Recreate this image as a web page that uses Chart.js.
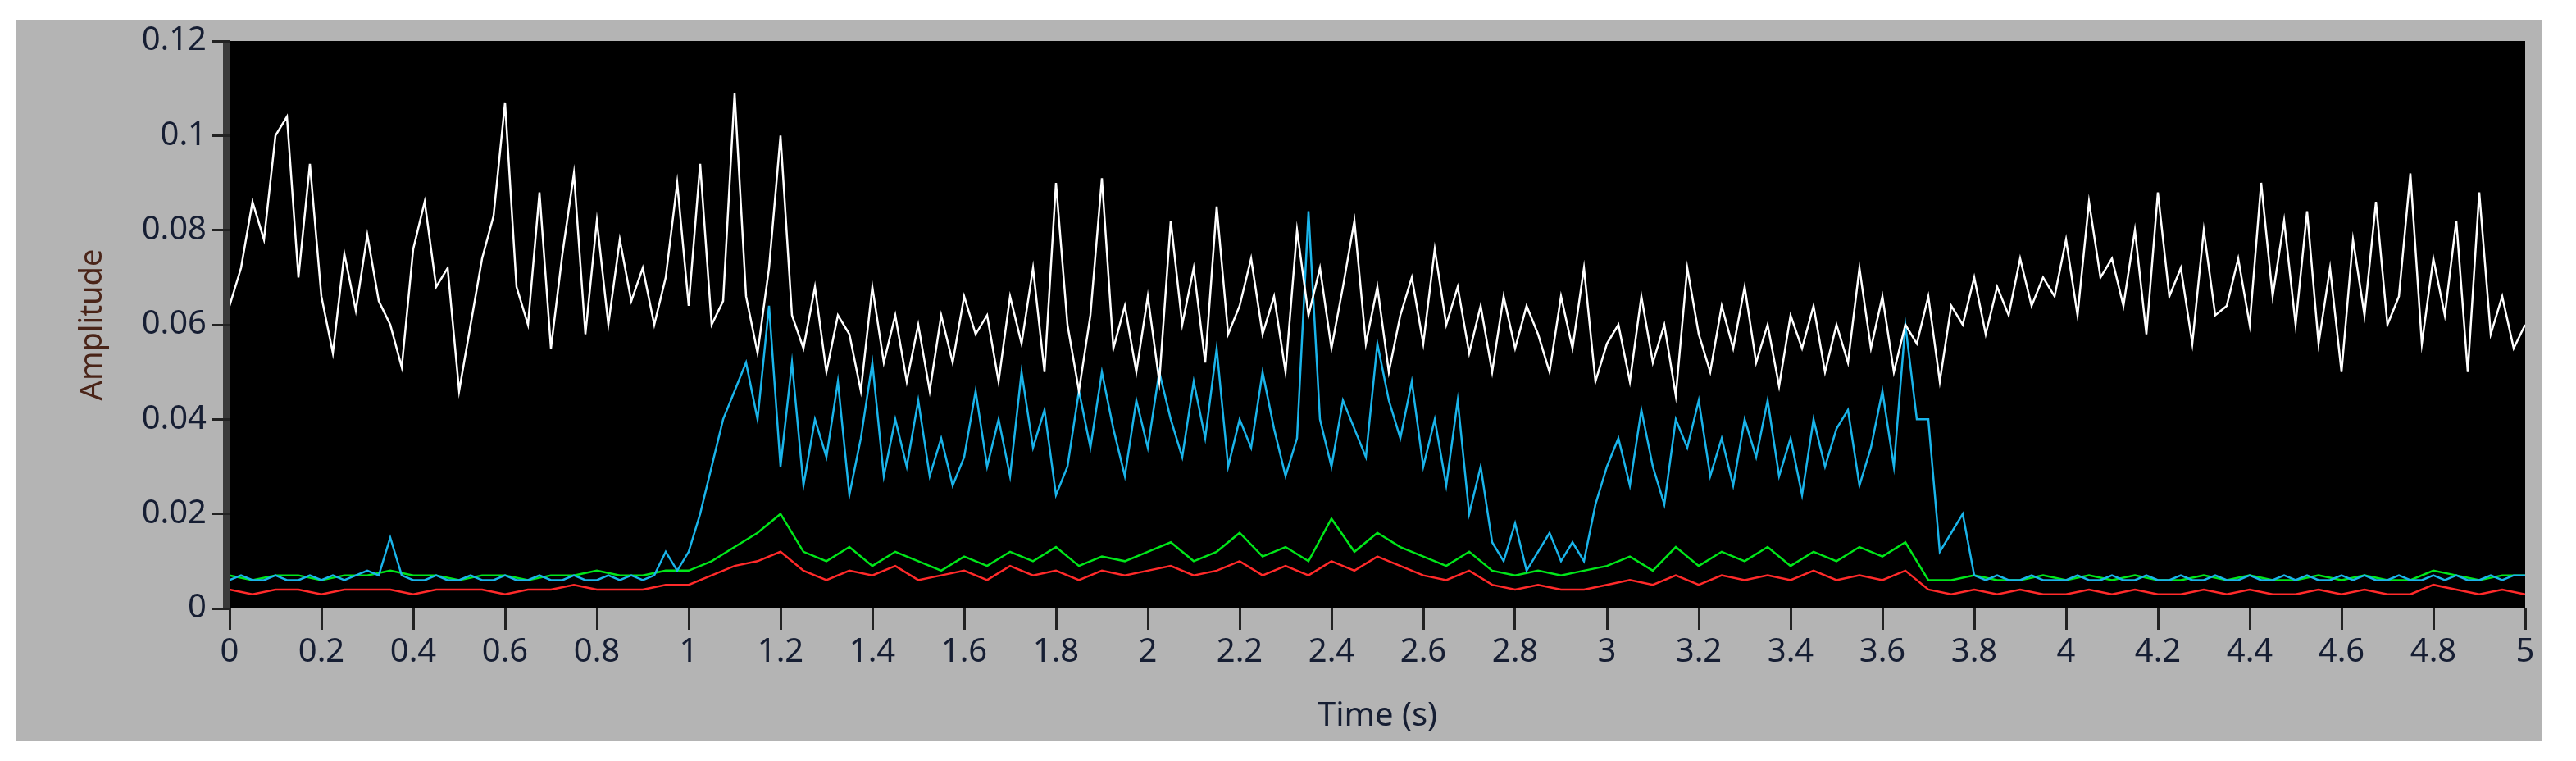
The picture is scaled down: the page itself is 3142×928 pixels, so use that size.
<!DOCTYPE html>
<html>
<head>
<meta charset="utf-8">
<script src="https://cdn.jsdelivr.net/npm/chart.js@4.4.0/dist/chart.umd.min.js"></script>
<style>
  html, body { margin: 0; padding: 0; background: #fff; }
  #wrap { width: 3142px; height: 928px; }
</style>
</head>
<body>
<div id="wrap"><canvas id="plot" width="3142" height="928"></canvas></div>
<script>
// 時間刻み (s)
const fineStep = 0.025;
const coarseStep = 0.05;
const xTicks = [0, 0.2, 0.4, 0.6, 0.8, 1, 1.2, 1.4, 1.6, 1.8, 2, 2.2, 2.4, 2.6, 2.8, 3, 3.2, 3.4, 3.6, 3.8, 4, 4.2, 4.4, 4.6, 4.8, 5];
const yTicks = [0, 0.02, 0.04, 0.06, 0.08, 0.1, 0.12];

// 白: 全体信号 (0.025 s 刻み)
const whiteSeries = [
  0.064,0.072,0.086,0.078,0.100,0.104,0.070,0.094,0.066,0.054,0.075,0.063,0.079,0.065,0.060,0.051,0.076,0.086,0.068,0.072,
  0.046,0.060,0.074,0.083,0.107,0.068,0.060,0.088,0.055,0.075,0.092,0.058,0.082,0.060,0.078,0.065,0.072,0.060,0.070,0.090,
  0.064,0.094,0.060,0.065,0.109,0.066,0.054,0.072,0.100,0.062,0.055,0.068,0.050,0.062,0.058,0.046,0.068,0.052,0.062,0.048,
  0.060,0.046,0.062,0.052,0.066,0.058,0.062,0.048,0.066,0.056,0.072,0.050,0.090,0.060,0.046,0.062,0.091,0.055,0.064,0.050,
  0.066,0.048,0.082,0.060,0.072,0.052,0.085,0.058,0.064,0.074,0.058,0.066,0.050,0.080,0.062,0.072,0.055,0.068,0.082,0.056,
  0.068,0.050,0.062,0.070,0.056,0.076,0.060,0.068,0.054,0.064,0.050,0.066,0.055,0.064,0.058,0.050,0.066,0.055,0.072,0.048,
  0.056,0.060,0.048,0.066,0.052,0.060,0.045,0.072,0.058,0.050,0.064,0.055,0.068,0.052,0.060,0.047,0.062,0.055,0.064,0.050,
  0.060,0.052,0.072,0.055,0.066,0.050,0.060,0.056,0.066,0.048,0.064,0.060,0.070,0.058,0.068,0.062,0.074,0.064,0.070,0.066,
  0.078,0.062,0.086,0.070,0.074,0.064,0.080,0.058,0.088,0.066,0.072,0.056,0.080,0.062,0.064,0.074,0.060,0.090,0.066,0.082,
  0.060,0.084,0.056,0.072,0.050,0.078,0.062,0.086,0.060,0.066,0.092,0.056,0.074,0.062,0.082,0.050,0.088,0.058,0.066,0.055,
  0.060
];

// 青 (0.025 s 刻み)
const blueSeries = [
  0.006,0.007,0.006,0.006,0.007,0.006,0.006,0.007,0.006,0.007,0.006,0.007,0.008,0.007,0.015,0.007,0.006,0.006,0.007,0.006,
  0.006,0.007,0.006,0.006,0.007,0.006,0.006,0.007,0.006,0.006,0.007,0.006,0.006,0.007,0.006,0.007,0.006,0.007,0.012,0.008,
  0.012,0.020,0.030,0.040,0.046,0.052,0.040,0.064,0.030,0.052,0.026,0.040,0.032,0.048,0.024,0.036,0.052,0.028,0.040,0.030,
  0.044,0.028,0.036,0.026,0.032,0.046,0.030,0.040,0.028,0.050,0.034,0.042,0.024,0.030,0.046,0.034,0.050,0.038,0.028,0.044,
  0.034,0.050,0.040,0.032,0.048,0.036,0.055,0.030,0.040,0.034,0.050,0.038,0.028,0.036,0.084,0.040,0.030,0.044,0.038,0.032,
  0.056,0.044,0.036,0.048,0.030,0.040,0.026,0.044,0.020,0.030,0.014,0.010,0.018,0.008,0.012,0.016,0.010,0.014,0.010,0.022,
  0.030,0.036,0.026,0.042,0.030,0.022,0.040,0.034,0.044,0.028,0.036,0.026,0.040,0.032,0.044,0.028,0.036,0.024,0.040,0.030,
  0.038,0.042,0.026,0.034,0.046,0.030,0.060,0.040,0.040,0.012,0.016,0.020,0.007,0.006,0.007,0.006,0.006,0.007,0.006,0.006,
  0.006,0.007,0.006,0.006,0.007,0.006,0.006,0.007,0.006,0.006,0.007,0.006,0.006,0.007,0.006,0.006,0.007,0.006,0.006,0.007,
  0.006,0.007,0.006,0.006,0.007,0.006,0.007,0.006,0.006,0.007,0.006,0.006,0.007,0.006,0.007,0.006,0.006,0.007,0.006,0.007,
  0.007
];

// 緑 (0.05 s 刻み)
const greenSeries = [
  0.007,0.006,0.007,0.007,0.006,0.007,0.007,0.008,0.007,0.007,0.006,0.007,0.007,0.006,0.007,0.007,0.008,0.007,0.007,0.008,
  0.008,0.010,0.013,0.016,0.020,0.012,0.010,0.013,0.009,0.012,0.010,0.008,0.011,0.009,0.012,0.010,0.013,0.009,0.011,0.010,
  0.012,0.014,0.010,0.012,0.016,0.011,0.013,0.010,0.019,0.012,0.016,0.013,0.011,0.009,0.012,0.008,0.007,0.008,0.007,0.008,
  0.009,0.011,0.008,0.013,0.009,0.012,0.010,0.013,0.009,0.012,0.010,0.013,0.011,0.014,0.006,0.006,0.007,0.006,0.006,0.007,
  0.006,0.007,0.006,0.007,0.006,0.006,0.007,0.006,0.007,0.006,0.006,0.007,0.006,0.007,0.006,0.006,0.008,0.007,0.006,0.007,
  0.007
];

// 赤 (0.05 s 刻み)
const redSeries = [
  0.004,0.003,0.004,0.004,0.003,0.004,0.004,0.004,0.003,0.004,0.004,0.004,0.003,0.004,0.004,0.005,0.004,0.004,0.004,0.005,
  0.005,0.007,0.009,0.010,0.012,0.008,0.006,0.008,0.007,0.009,0.006,0.007,0.008,0.006,0.009,0.007,0.008,0.006,0.008,0.007,
  0.008,0.009,0.007,0.008,0.010,0.007,0.009,0.007,0.010,0.008,0.011,0.009,0.007,0.006,0.008,0.005,0.004,0.005,0.004,0.004,
  0.005,0.006,0.005,0.007,0.005,0.007,0.006,0.007,0.006,0.008,0.006,0.007,0.006,0.008,0.004,0.003,0.004,0.003,0.004,0.003,
  0.003,0.004,0.003,0.004,0.003,0.003,0.004,0.003,0.004,0.003,0.003,0.004,0.003,0.004,0.003,0.003,0.005,0.004,0.003,0.004,
  0.003
];

function toPoints(values, step) {
  return values.map((v, i) => ({ x: +(i * step).toFixed(3), y: v }));
}

function lineSet(values, step, color) {
  return {
    data: toPoints(values, step),
    borderColor: color,
    borderWidth: 2.5,
    pointRadius: 0,
    tension: 0,
    fill: false
  };
}

// 背景パネル (灰色) とプロット領域 (黒)
const panelPlugin = {
  id: 'panel',
  beforeDraw(chart) {
    const ctx = chart.ctx;
    const a = chart.chartArea;
    ctx.save();
    ctx.fillStyle = '#b4b4b4';
    ctx.fillRect(20, 24, 3080, 880);
    ctx.fillStyle = '#000';
    ctx.fillRect(a.left, a.top, a.right - a.left, a.bottom - a.top);
    ctx.fillStyle = '#3a3a3a';
    ctx.fillRect(a.left - 8, a.top, 8, a.bottom - a.top);
    ctx.restore();
  }
};

const tickFont = { family: 'Noto Sans', size: 40 };

new Chart(document.getElementById('plot'), {
  type: 'line',
  data: {
    datasets: [
      lineSet(whiteSeries, fineStep, '#ffffff'),
      lineSet(blueSeries, fineStep, '#1ab4ea'),
      lineSet(greenSeries, coarseStep, '#00e61a'),
      lineSet(redSeries, coarseStep, '#ff2a2a')
    ]
  },
  options: {
    responsive: false,
    animation: false,
    layout: { padding: { left: 86, right: 62, top: 50, bottom: 26 } },
    plugins: { legend: { display: false }, tooltip: { enabled: false } },
    scales: {
      x: {
        type: 'linear',
        min: 0, max: 5,
        afterBuildTicks(scale) { scale.ticks = xTicks.map(v => ({ value: v })); },
        afterFit(scale) { scale.height = 160; },
        ticks: {
          autoSkip: false, maxRotation: 0, font: tickFont, color: '#161e33', padding: 4,
          callback: v => String(v)
        },
        grid: { drawOnChartArea: false, color: '#222', tickLength: 26, lineWidth: 3 },
        border: { display: false },
        title: { display: true, text: 'Time (s)', font: tickFont, color: '#161e33', padding: { top: 0 } }
      },
      y: {
        min: 0, max: 0.12,
        afterBuildTicks(scale) { scale.ticks = yTicks.map(v => ({ value: v })); },
        afterFit(scale) { scale.width = 194; },
        ticks: { font: tickFont, color: '#161e33', padding: 6, callback: v => String(v) },
        grid: { drawOnChartArea: false, color: '#222', tickLength: 22, lineWidth: 3 },
        border: { display: false },
        title: { display: true, text: 'Amplitude', font: { family: 'Noto Sans', size: 38 }, color: '#4a2418', padding: { bottom: 0 } }
      }
    }
  },
  plugins: [panelPlugin]
});
</script>
</body>
</html>
